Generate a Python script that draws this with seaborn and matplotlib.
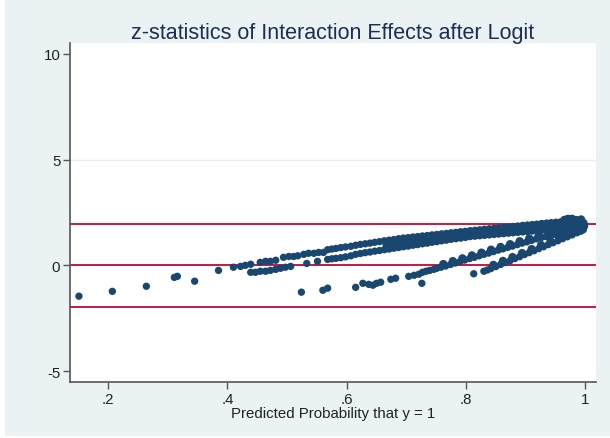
import matplotlib
matplotlib.use("Agg")
import matplotlib.pyplot as plt
import seaborn as sns
import pandas as pd
from matplotlib.patches import Rectangle

# ---------------- data ----------------
title = "z-statistics of Interaction Effects after Logit"
x_label = "Predicted Probability that y = 1"
x_ticks = [0.2, 0.4, 0.6, 0.8, 1.0]
x_tick_labels = [".2", ".4", ".6", ".8", "1"]
y_ticks = [-5, 0, 5, 10]
y_tick_labels = ["-5", "0", "5", "10"]
ref_lines = [1.96, 0.0, -1.96]

# isolated points on the left and below
iso_x = [0.151, 0.207, 0.264, 0.311, 0.316, 0.345, 0.385, 0.524, 0.560, 0.568, 0.726]
iso_y = [-1.46, -1.23, -0.99, -0.57, -0.52, -0.75, -0.24, -1.27, -1.18, -1.08, -0.85]

# upper row of the main band
up_x = [0.410, 0.422, 0.430, 0.439, 0.455, 0.464, 0.472, 0.481, 0.494, 0.503, 0.511,
        0.518, 0.528, 0.536, 0.545, 0.553, 0.561, 0.568, 0.575, 0.582, 0.590, 0.598,
        0.607, 0.615, 0.623, 0.631, 0.639, 0.647, 0.655, 0.663, 0.671, 0.679, 0.687,
        0.695, 0.703, 0.711, 0.719, 0.727, 0.735, 0.743, 0.751, 0.759, 0.767, 0.775,
        0.783, 0.791, 0.799, 0.807, 0.815, 0.823, 0.831, 0.839, 0.847, 0.855, 0.863,
        0.871, 0.879, 0.887, 0.895, 0.903, 0.911, 0.919, 0.927, 0.935, 0.943, 0.951,
        0.959, 0.967, 0.975, 0.983, 0.991]
up_y = [-0.09, -0.05, 0.00, 0.05, 0.14, 0.19, 0.19, 0.24, 0.38, 0.42, 0.42,
        0.45, 0.52, 0.57, 0.57, 0.61, 0.61, 0.74, 0.77, 0.80, 0.84, 0.87,
        0.90, 0.95, 0.99, 1.02, 1.05, 1.09, 1.12, 1.16, 1.19, 1.22, 1.26,
        1.29, 1.31, 1.34, 1.36, 1.39, 1.41, 1.44, 1.46, 1.49, 1.51, 1.54,
        1.56, 1.59, 1.61, 1.64, 1.66, 1.68, 1.71, 1.73, 1.75, 1.77, 1.80,
        1.82, 1.84, 1.86, 1.89, 1.91, 1.93, 1.95, 1.98, 2.00, 2.02, 2.04,
        2.06, 2.08, 2.10, 2.11, 2.12]

# points between the two rows where the band is solid
mid_x = [0.667, 0.679, 0.691, 0.703, 0.715, 0.727, 0.739, 0.751, 0.763, 0.775, 0.787,
         0.799, 0.811, 0.823, 0.835, 0.847, 0.859, 0.871, 0.883, 0.895, 0.907, 0.919,
         0.931, 0.943, 0.955, 0.967, 0.979, 0.991]
mid_y = [0.96, 1.01, 1.06, 1.11, 1.15, 1.20, 1.24, 1.29, 1.33, 1.38, 1.42,
         1.46, 1.51, 1.54, 1.57, 1.60, 1.63, 1.67, 1.70, 1.73, 1.76, 1.79,
         1.83, 1.86, 1.89, 1.92, 1.95, 1.97]

# lower row of the main band
lo_x = [0.439, 0.447, 0.455, 0.464, 0.472, 0.481, 0.489, 0.497, 0.506, 0.533, 0.551,
        0.568, 0.575, 0.582, 0.590, 0.598, 0.607, 0.615, 0.623, 0.631, 0.639, 0.647,
        0.655, 0.663, 0.671, 0.679, 0.687, 0.695, 0.703, 0.711, 0.719, 0.727, 0.735,
        0.743, 0.751, 0.759, 0.767, 0.775, 0.783, 0.791, 0.799, 0.807, 0.815, 0.823,
        0.831, 0.839, 0.847, 0.855, 0.863, 0.871, 0.879, 0.887, 0.895, 0.903, 0.911,
        0.919, 0.927, 0.935, 0.943, 0.951, 0.959, 0.967, 0.975, 0.983, 0.991]
lo_y = [-0.33, -0.33, -0.28, -0.28, -0.24, -0.19, -0.14, -0.09, -0.05, 0.09, 0.19,
        0.28, 0.31, 0.33, 0.36, 0.40, 0.45, 0.52, 0.56, 0.60, 0.63, 0.67,
        0.70, 0.74, 0.77, 0.81, 0.84, 0.88, 0.91, 0.95, 0.98, 1.02, 1.05,
        1.09, 1.12, 1.16, 1.19, 1.23, 1.26, 1.29, 1.32, 1.36, 1.38, 1.40,
        1.42, 1.44, 1.46, 1.48, 1.50, 1.52, 1.54, 1.56, 1.58, 1.60, 1.62,
        1.64, 1.66, 1.68, 1.70, 1.72, 1.74, 1.76, 1.78, 1.80, 1.82]

# band C (starts below zero near .6)
c_x = [0.615, 0.627, 0.637, 0.644, 0.650, 0.657, 0.674, 0.682, 0.704, 0.713, 0.721,
       0.727, 0.733, 0.739, 0.746, 0.751, 0.758, 0.766, 0.774, 0.782, 0.790, 0.798,
       0.806, 0.814, 0.822, 0.830, 0.838, 0.846, 0.854, 0.862, 0.870, 0.878, 0.886,
       0.894, 0.902, 0.910, 0.918, 0.926, 0.934, 0.942, 0.950, 0.958, 0.966, 0.974,
       0.982, 0.990]
c_y = [-1.04, -0.85, -0.90, -0.94, -0.85, -0.80, -0.66, -0.61, -0.52, -0.47, -0.42,
       -0.33, -0.28, -0.24, -0.19, -0.14, -0.09, -0.03, 0.04, 0.11, 0.18, 0.25,
       0.32, 0.38, 0.45, 0.52, 0.58, 0.65, 0.72, 0.78, 0.85, 0.91, 0.98,
       1.05, 1.11, 1.18, 1.25, 1.31, 1.36, 1.41, 1.46, 1.50, 1.55, 1.60,
       1.64, 1.69]
c2_x = [0.762, 0.778, 0.794, 0.810, 0.826, 0.842, 0.858, 0.874, 0.890, 0.906, 0.922,
        0.938, 0.954, 0.970, 0.986]
c2_y = [0.06, 0.20, 0.33, 0.47, 0.60, 0.74, 0.87, 1.00, 1.14, 1.27, 1.40,
        1.50, 1.60, 1.69, 1.79]

# band D (starts below zero near .8)
d_x = [0.813, 0.830, 0.836, 0.842, 0.850, 0.858, 0.866, 0.874, 0.882, 0.890, 0.898,
       0.906, 0.914, 0.922, 0.930, 0.938, 0.946, 0.954, 0.962, 0.970, 0.978, 0.986,
       0.992]
d_y = [-0.40, -0.28, -0.22, -0.15, -0.06, 0.04, 0.13, 0.22, 0.32, 0.41, 0.51,
       0.60, 0.69, 0.79, 0.88, 0.98, 1.07, 1.16, 1.26, 1.35, 1.44, 1.54,
       1.61]
d2_x = [0.846, 0.862, 0.878, 0.894, 0.910, 0.926, 0.942, 0.958, 0.974, 0.988]
d2_y = [0.02, 0.21, 0.39, 0.58, 0.77, 0.96, 1.14, 1.33, 1.52, 1.68]

# cluster near probability 1
end_x = [0.971, 0.993, 0.985, 0.997, 0.998, 0.996, 0.990, 0.982, 0.975, 0.985, 0.995, 0.965, 0.978]
end_y = [2.20, 2.17, 2.14, 2.00, 1.85, 1.70, 1.75, 1.90, 1.95, 1.98, 1.90, 2.15, 2.20]

sparse = [("iso", iso_x, iso_y), ("upper", up_x, up_y), ("lower", lo_x, lo_y),
          ("c", c_x, c_y), ("d", d_x, d_y)]
dense = [("mid", mid_x, mid_y), ("c2", c2_x, c2_y), ("d2", d2_x, d2_y),
         ("end", end_x, end_y)]
df_sparse = pd.concat([pd.DataFrame({"p": xs, "z": ys, "group": n}) for n, xs, ys in sparse],
                      ignore_index=True)
df_dense = pd.concat([pd.DataFrame({"p": xs, "z": ys, "group": n}) for n, xs, ys in dense],
                     ignore_index=True)

# ---------------- styling ----------------
sns.set_theme(style="white")
plt.rcParams["font.family"] = ["Liberation Sans", "DejaVu Sans"]

BG = "#EAF2F3"
DOT = "#1A476F"
RED = "#C10534"

fig = plt.figure(figsize=(6.10, 4.39), dpi=100, facecolor="white")
fig.patches.append(Rectangle((5 / 610, 2 / 439), 1, 1, transform=fig.transFigure,
                             facecolor=BG, edgecolor="none", zorder=-10))
ax = fig.add_axes([70 / 610, (439 - 383) / 439, 526 / 610, 339 / 439])
ax.set_facecolor("white")

ax.axhline(5, color="#E6EEF0", lw=1.0, zorder=0)
for v in ref_lines:
    ax.axhline(v, color=RED, lw=1.3, zorder=1)

sns.scatterplot(data=df_sparse, x="p", y="z", color=DOT, s=28, linewidth=0,
                edgecolor="none", ax=ax, legend=False, zorder=3)
sns.scatterplot(data=df_dense, x="p", y="z", color=DOT, s=36, linewidth=0,
                edgecolor="none", ax=ax, legend=False, zorder=3)

ax.set_xlim(0.136, 1.018)
ax.set_ylim(-5.52, 10.52)
ax.set_xticks(x_ticks)
ax.set_xticklabels(x_tick_labels)
ax.set_yticks(y_ticks)
ax.set_yticklabels(y_tick_labels)
ax.set_xlabel("")
ax.set_ylabel("")

for side in ["top", "right"]:
    ax.spines[side].set_visible(False)
for side in ["left", "bottom"]:
    ax.spines[side].set_color("#555555")
    ax.spines[side].set_linewidth(1.2)

ax.tick_params(axis="both", which="major", length=5, width=1, color="#555555",
               labelsize=10.8, labelcolor="#222222", pad=2, direction="out",
               bottom=True, left=True)
ax.set_xlabel(x_label, fontsize=10.8, color="#222222", labelpad=0.5)

fig.text((70 + 596) / 2 / 610, 1 - 33 / 439, title, ha="center", va="center",
         fontsize=15.5, color="#1E2D53")

fig.savefig("out.png", dpi=100, facecolor=fig.get_facecolor())
